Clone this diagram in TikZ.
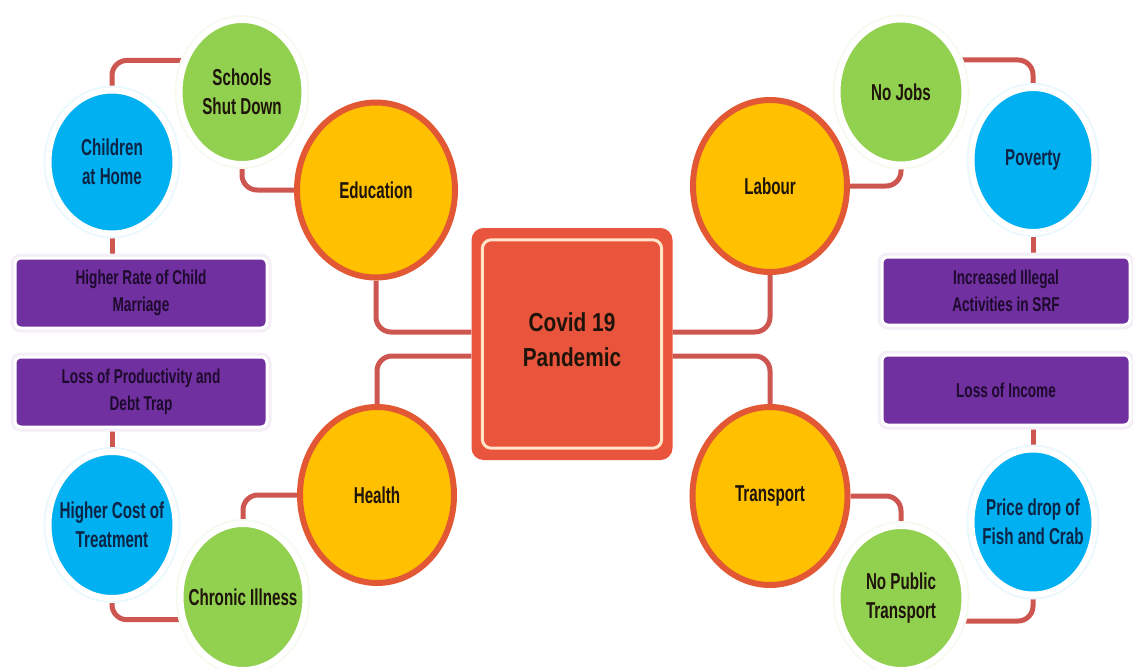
\documentclass[tikz,border=0pt]{standalone}
\usepackage{fontspec}
\setmainfont{Liberation Sans}[FakeStretch=0.66]
\newfontfamily\boxfont{Liberation Sans}[FakeStretch=0.68]
\newfontfamily\hubfont{Liberation Sans}[FakeStretch=0.8]
\usetikzlibrary{shapes.geometric,backgrounds}

\definecolor{linkred}{RGB}{206,86,80}
\definecolor{hubfill}{RGB}{232,84,60}
\definecolor{hubline}{RGB}{255,228,200}
\definecolor{topicfill}{RGB}{255,192,0}
\definecolor{topicline}{RGB}{226,88,52}
\definecolor{effgreen}{RGB}{146,208,80}
\definecolor{effblue}{RGB}{0,176,240}
\definecolor{effpurple}{RGB}{112,48,160}
\definecolor{inkdark}{RGB}{30,20,10}
\definecolor{inknavy}{RGB}{12,36,70}
\definecolor{inkpurple}{RGB}{30,10,45}

\tikzset{
  conn/.style={draw=linkred, line width=5pt, rounded corners=15pt},
  topic/.style={ellipse, fill=topicfill, draw=topicline, line width=6pt,
    inner sep=0pt},
  effect/.style={ellipse, inner sep=0pt,
    preaction={draw=#1!8, line width=10pt},
    fill=#1, draw=white, line width=6pt},
  issue/.style={rectangle, rounded corners=6pt, fill=effpurple,
    preaction={draw=effpurple!8, line width=9pt},
    draw=white, line width=3pt,
    text=inkpurple, align=center, font=\boxfont\bfseries\fontsize{20}{27}\selectfont},
  txt/.style={align=center, text=inkdark, font=\bfseries\fontsize{23}{29}\selectfont},
  txtnavy/.style={align=center, text=inknavy, font=\bfseries\fontsize{23}{29}\selectfont},
}

\begin{document}
\begin{tikzpicture}[x=1pt, y=-1pt]
\useasboundingbox (0,0) rectangle (1133,669);

% central hub
\node[rectangle, rounded corners=12pt, fill=hubfill, minimum width=201pt,
      minimum height=232pt, inner sep=0pt] (hub) at (572,344) {};
\draw[hubline, line width=3pt, rounded corners=9pt]
  ([xshift=11pt,yshift=-12pt]hub.north west) rectangle ([xshift=-11pt,yshift=12pt]hub.south east);
\node[align=center, text=inkdark, font=\hubfont\bfseries\fontsize{26}{35}\selectfont]
  (hubtext) at (572,340) {Covid 19\\Pandemic};

% four topics
\node[topic, minimum width=158pt, minimum height=175pt,
      label={[txt]center:Education}] (edu) at (376,190) {};
\node[topic, minimum width=154pt, minimum height=176pt,
      label={[txt]center:Health}] (health) at (377,495) {};
\node[topic, minimum width=154pt, minimum height=172pt,
      label={[txt]center:Labour}] (labour) at (770,186) {};
\node[topic, minimum width=155pt, minimum height=178pt,
      label={[txt]center:Transport}] (transport) at (770,496) {};

% green effects
\node[effect=effgreen, minimum width=125pt, minimum height=144pt,
      label={[txt]center:Schools\\Shut Down}] (schools) at (242,92) {};
\node[effect=effgreen, minimum width=125pt, minimum height=146pt,
      label={[txt]center:Chronic Illness}] (chronic) at (243,597) {};
\node[effect=effgreen, minimum width=127pt, minimum height=145pt,
      label={[txt]center:No Jobs}] (nojobs) at (901,92) {};
\node[effect=effgreen, minimum width=127pt, minimum height=144pt,
      label={[txt]center:No Public\\Transport}] (nopub) at (901,598) {};

% blue effects
\node[effect=effblue, minimum width=127pt, minimum height=143pt,
      label={[txtnavy]center:Children\\at Home}] (children) at (112,162) {};
\node[effect=effblue, minimum width=127pt, minimum height=146pt,
      label={[txtnavy]center:Higher Cost of\\Treatment}] (cost) at (112,525) {};
\node[effect=effblue, minimum width=123pt, minimum height=144pt,
      label={[txtnavy]center:Poverty}] (poverty) at (1033,160) {};
\node[effect=effblue, minimum width=123pt, minimum height=145pt,
      label={[txtnavy]center:Price drop of\\Fish and Crab}] (price) at (1033,522) {};

% purple outcomes
\node[issue, minimum width=252pt, minimum height=70pt] (marriage) at (141,293)
  {Higher Rate of Child\\Marriage};
\node[issue, minimum width=252pt, minimum height=70pt] (debt) at (141,392)
  {Loss of Productivity and\\Debt Trap};
\node[issue, minimum width=248pt, minimum height=68pt] (illegal) at (1006,291)
  {Increased Illegal\\Activities in SRF};
\node[issue, minimum width=248pt, minimum height=70pt] (income) at (1006,390)
  {Loss of Income};

% connectors
\begin{scope}[on background layer]
  \draw[conn] (edu.south) |- ([yshift=12pt]hub.west);
  \draw[conn] (health.north) |- ([yshift=-12pt]hub.west);
  \draw[conn] (labour.south) |- ([yshift=12pt]hub.east);
  \draw[conn] (transport.north) |- ([yshift=-12pt]hub.east);

  \draw[conn] (schools.south) |- (edu.west);
  \draw[conn] (schools.152) -| (children.north);
  \draw[conn] (children.south) -- (children.south |- marriage.north);
  \draw[conn] (cost.north |- debt.south) -- (cost.north);
  \draw[conn] (cost.south) |- (chronic.200);
  \draw[conn] (health.west) -| (chronic.north);

  \draw[conn] (labour.east) -| (nojobs.south);
  \draw[conn] (nojobs.28) -| (poverty.north);
  \draw[conn] (poverty.south) -- (poverty.south |- illegal.north);
  \draw[conn] (price.north |- income.south) -- (price.north);
  \draw[conn] (price.south) |- (nopub.340);
  \draw[conn] (transport.east) -| (nopub.north);
\end{scope}
\end{tikzpicture}
\end{document}
